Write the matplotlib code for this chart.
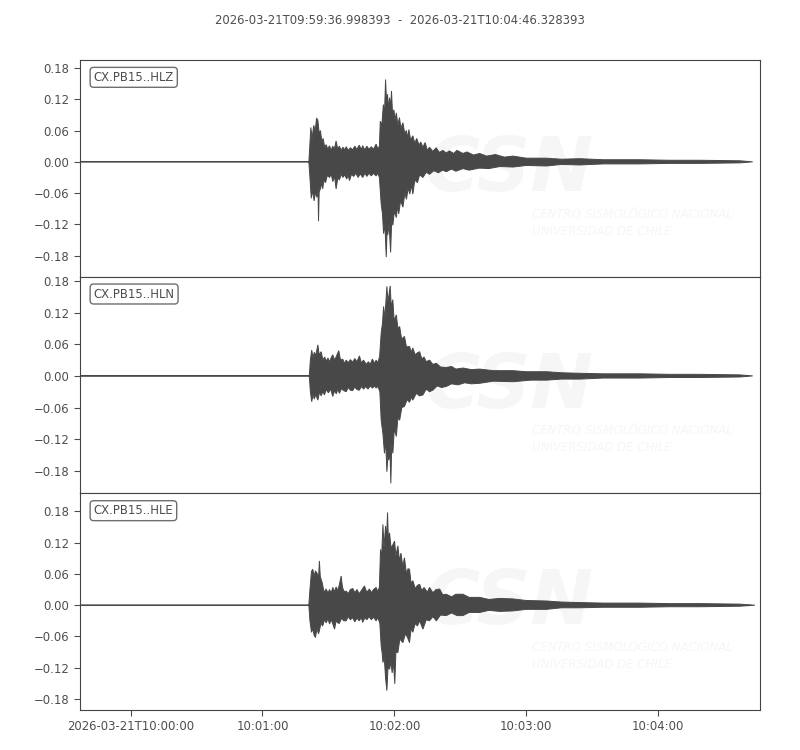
import numpy as np
import pandas as pd
import matplotlib.pyplot as plt
import matplotlib.dates as mdates
from matplotlib.ticker import FixedLocator, FuncFormatter

plt.switch_backend("Agg")

# Trace window and ids
start_time = "2026-03-21T09:59:36.998393"
end_time = "2026-03-21T10:04:46.328393"
ref_time = "2026-03-21T10:00:00"
trace_ids = ["CX.PB15..HLZ", "CX.PB15..HLN", "CX.PB15..HLE"]

# Envelopes: (seconds after 10:00:00, amplitude)
hlz_upper = [
    (-23.0, 0.0), (81.1, 0.0), (81.4, 0.020), (82.0, 0.066), (82.6, 0.045), (83.3, 0.070),
    (84.0, 0.060), (84.6, 0.084), (85.2, 0.080), (85.8, 0.055), (86.4, 0.060), (87.0, 0.038),
    (87.6, 0.045), (88.3, 0.028), (89.0, 0.033), (89.7, 0.024), (90.5, 0.031), (91.2, 0.022),
    (92.0, 0.030), (92.7, 0.024), (93.5, 0.040), (94.2, 0.025), (95.0, 0.030), (95.8, 0.022),
    (96.6, 0.028), (97.4, 0.023), (98.1, 0.029), (99.0, 0.022), (100.0, 0.027), (101.0, 0.023),
    (102.0, 0.030), (103.0, 0.024), (104.0, 0.032), (105.0, 0.024), (105.6, 0.031),
    (106.5, 0.023), (107.5, 0.030), (108.5, 0.024), (109.5, 0.029), (110.5, 0.024),
    (111.7, 0.034), (112.5, 0.025), (113.2, 0.030), (113.6, 0.078), (114.3, 0.070),
    (115.0, 0.110), (115.5, 0.090), (116.0, 0.158), (116.5, 0.110), (116.9, 0.130),
    (117.3, 0.100), (117.8, 0.123), (118.3, 0.105), (118.7, 0.136), (119.2, 0.090),
    (119.8, 0.100), (120.3, 0.080), (120.9, 0.094), (121.6, 0.070), (122.3, 0.085),
    (123.0, 0.065), (123.9, 0.075), (124.7, 0.055), (125.5, 0.060), (126.0, 0.045),
    (126.6, 0.062), (127.4, 0.042), (128.4, 0.050), (129.3, 0.036), (130.2, 0.045),
    (131.2, 0.032), (132.0, 0.038), (133.0, 0.028), (134.0, 0.037), (135.0, 0.022),
    (136.0, 0.028), (137.5, 0.020), (139.0, 0.027), (140.5, 0.018), (142.0, 0.022),
    (143.6, 0.017), (145.0, 0.021), (147.0, 0.016), (148.5, 0.022), (151.2, 0.016),
    (153.0, 0.019), (156.0, 0.013), (158.8, 0.016), (162.0, 0.011), (166.0, 0.014),
    (170.0, 0.009), (174.0, 0.011), (180.0, 0.007), (189.2, 0.007), (196.0, 0.005),
    (204.3, 0.006), (215.0, 0.004), (231.6, 0.004), (245.0, 0.003), (258.9, 0.003),
    (277.1, 0.002), (283.0, 0.0),
]
hlz_lower = [
    (-23.0, 0.0), (81.1, 0.0), (81.6, -0.030), (82.2, -0.070), (82.8, -0.055), (83.5, -0.075),
    (84.1, -0.058), (84.7, -0.068), (85.3, -0.060), (85.5, -0.114), (85.8, -0.058),
    (86.5, -0.050), (87.0, -0.040), (87.4, -0.052), (88.0, -0.035), (88.7, -0.040),
    (89.5, -0.026), (90.5, -0.030), (91.3, -0.024), (92.0, -0.038), (92.8, -0.028),
    (93.5, -0.052), (94.3, -0.030), (95.0, -0.035), (95.8, -0.024), (96.6, -0.030),
    (97.4, -0.025), (98.3, -0.033), (99.0, -0.026), (99.6, -0.036), (100.5, -0.024),
    (101.5, -0.028), (102.5, -0.022), (103.5, -0.030), (104.5, -0.023), (105.6, -0.030),
    (106.6, -0.022), (107.5, -0.028), (108.5, -0.022), (109.5, -0.027), (110.5, -0.022),
    (111.7, -0.027), (112.5, -0.022), (113.2, -0.030), (114.0, -0.081), (114.6, -0.100),
    (115.1, -0.138), (115.7, -0.120), (116.3, -0.183), (116.7, -0.130), (117.0, -0.140),
    (117.6, -0.120), (118.3, -0.174), (118.8, -0.110), (119.3, -0.122), (120.0, -0.095),
    (120.9, -0.107), (121.5, -0.085), (122.0, -0.100), (122.8, -0.075), (123.9, -0.087),
    (124.8, -0.060), (125.5, -0.072), (126.3, -0.050), (127.0, -0.062), (127.8, -0.045),
    (128.4, -0.062), (129.3, -0.035), (130.5, -0.040), (131.5, -0.025), (133.0, -0.030),
    (134.5, -0.020), (136.0, -0.024), (138.0, -0.017), (140.0, -0.021), (142.0, -0.016),
    (143.6, -0.019), (146.0, -0.014), (148.0, -0.018), (151.2, -0.013), (154.0, -0.016),
    (158.8, -0.012), (163.0, -0.013), (168.0, -0.009), (174.0, -0.010), (180.0, -0.007),
    (189.2, -0.008), (196.0, -0.005), (204.3, -0.006), (215.0, -0.004), (231.6, -0.004),
    (245.0, -0.003), (258.9, -0.003), (277.1, -0.002), (283.0, 0.0),
]

hln_upper = [
    (-23.0, 0.0), (81.3, 0.0), (81.8, 0.030), (82.4, 0.049), (83.0, 0.035), (83.6, 0.045),
    (84.2, 0.038), (85.2, 0.059), (85.8, 0.040), (86.7, 0.046), (87.5, 0.030), (88.3, 0.036),
    (89.0, 0.028), (89.8, 0.034), (90.5, 0.027), (91.3, 0.035), (92.0, 0.040), (92.8, 0.030),
    (93.5, 0.036), (94.7, 0.048), (95.5, 0.030), (96.5, 0.032), (97.3, 0.024), (98.1, 0.030),
    (99.0, 0.025), (100.0, 0.031), (101.0, 0.026), (102.0, 0.033), (103.0, 0.027),
    (104.1, 0.038), (105.0, 0.025), (106.0, 0.030), (107.2, 0.022), (108.2, 0.027),
    (109.0, 0.022), (110.0, 0.032), (111.0, 0.024), (111.7, 0.030), (112.5, 0.025),
    (113.3, 0.037), (114.0, 0.081), (114.6, 0.100), (115.1, 0.132), (115.7, 0.110),
    (116.6, 0.170), (117.1, 0.140), (117.6, 0.155), (118.1, 0.171), (118.6, 0.130),
    (119.3, 0.145), (119.9, 0.105), (120.9, 0.116), (121.6, 0.090), (122.4, 0.094),
    (123.3, 0.070), (124.6, 0.075), (125.5, 0.055), (126.9, 0.056), (127.7, 0.045),
    (128.4, 0.053), (129.5, 0.040), (130.5, 0.044), (131.5, 0.046), (132.5, 0.032),
    (133.5, 0.036), (134.5, 0.027), (136.0, 0.030), (137.5, 0.022), (139.1, 0.024),
    (141.0, 0.017), (143.6, 0.016), (146.0, 0.018), (148.0, 0.013), (151.2, 0.015),
    (155.0, 0.012), (158.8, 0.013), (165.0, 0.010), (174.0, 0.010), (180.0, 0.008),
    (189.2, 0.008), (196.0, 0.006), (204.3, 0.005), (215.0, 0.004), (231.6, 0.004),
    (245.0, 0.003), (258.9, 0.003), (277.1, 0.002), (283.0, 0.0),
]
hln_lower = [
    (-23.0, 0.0), (81.3, 0.0), (81.8, -0.030), (82.4, -0.049), (83.0, -0.036), (83.6, -0.044),
    (84.2, -0.035), (85.2, -0.046), (86.0, -0.030), (86.7, -0.038), (87.4, -0.030),
    (88.2, -0.036), (89.0, -0.026), (90.0, -0.032), (91.0, -0.025), (92.0, -0.039),
    (92.8, -0.028), (93.6, -0.034), (94.3, -0.025), (95.0, -0.033), (96.0, -0.024),
    (97.0, -0.028), (98.1, -0.030), (99.0, -0.022), (100.0, -0.027), (101.0, -0.028),
    (102.0, -0.021), (103.0, -0.026), (104.1, -0.027), (105.0, -0.020), (106.0, -0.025),
    (107.0, -0.020), (108.0, -0.025), (109.0, -0.019), (110.0, -0.023), (111.0, -0.019),
    (111.7, -0.023), (112.5, -0.020), (113.4, -0.030), (114.0, -0.084), (114.8, -0.110),
    (115.5, -0.147), (116.0, -0.120), (116.6, -0.182), (117.1, -0.150), (117.5, -0.160),
    (118.0, -0.140), (118.4, -0.204), (118.8, -0.130), (119.3, -0.147), (120.0, -0.100),
    (120.9, -0.115), (121.6, -0.080), (122.4, -0.084), (123.4, -0.060), (124.6, -0.058),
    (125.8, -0.045), (126.9, -0.050), (127.8, -0.040), (128.4, -0.046), (130.0, -0.033),
    (131.5, -0.038), (133.0, -0.036), (134.5, -0.025), (136.0, -0.030), (137.5, -0.027),
    (139.5, -0.019), (141.5, -0.022), (143.6, -0.020), (146.0, -0.015), (149.0, -0.017),
    (152.0, -0.013), (155.0, -0.015), (158.8, -0.014), (165.0, -0.010), (174.0, -0.011),
    (182.0, -0.008), (189.2, -0.008), (196.0, -0.006), (204.3, -0.006), (215.0, -0.004),
    (231.6, -0.004), (245.0, -0.003), (258.9, -0.003), (277.1, -0.002), (283.0, 0.0),
]

hle_upper = [
    (-23.0, 0.0), (81.1, 0.0), (81.6, 0.030), (82.3, 0.065), (82.9, 0.069), (83.5, 0.055),
    (84.1, 0.066), (85.0, 0.060), (85.5, 0.050), (85.9, 0.085), (86.3, 0.055), (86.8, 0.048),
    (87.2, 0.043), (88.0, 0.025), (89.0, 0.031), (89.8, 0.023), (90.5, 0.030), (91.3, 0.024),
    (92.0, 0.034), (92.8, 0.026), (93.5, 0.035), (94.3, 0.028), (95.0, 0.040), (95.8, 0.056),
    (96.4, 0.034), (97.2, 0.026), (98.1, 0.027), (99.0, 0.022), (100.0, 0.030),
    (101.1, 0.032), (102.0, 0.024), (103.0, 0.030), (104.0, 0.022), (105.0, 0.028),
    (106.4, 0.037), (107.4, 0.025), (108.7, 0.031), (109.6, 0.024), (110.5, 0.030),
    (111.7, 0.034), (112.5, 0.026), (113.2, 0.035), (113.7, 0.107), (114.2, 0.090),
    (114.8, 0.155), (115.3, 0.110), (116.0, 0.152), (116.4, 0.120), (116.9, 0.178),
    (117.3, 0.120), (117.8, 0.139), (118.5, 0.110), (119.2, 0.115), (120.1, 0.123),
    (120.7, 0.095), (121.6, 0.114), (122.3, 0.085), (123.0, 0.100), (123.8, 0.075),
    (124.6, 0.091), (125.5, 0.060), (126.2, 0.070), (126.9, 0.069), (127.6, 0.042),
    (128.4, 0.047), (129.5, 0.032), (130.5, 0.038), (131.5, 0.040), (132.5, 0.028),
    (133.5, 0.034), (135.0, 0.025), (136.0, 0.034), (137.5, 0.024), (139.0, 0.030),
    (140.6, 0.031), (142.0, 0.020), (143.6, 0.021), (146.0, 0.016), (148.0, 0.021),
    (151.2, 0.021), (154.0, 0.015), (158.8, 0.015), (163.0, 0.011), (168.0, 0.013),
    (174.0, 0.012), (180.0, 0.009), (189.2, 0.008), (196.0, 0.006), (204.3, 0.005),
    (215.0, 0.004), (231.6, 0.004), (245.0, 0.003), (258.9, 0.003), (277.1, 0.002),
    (284.0, 0.0),
]
hle_lower = [
    (-23.0, 0.0), (81.1, 0.0), (81.6, -0.030), (82.3, -0.052), (82.9, -0.045), (83.5, -0.058),
    (84.1, -0.062), (84.8, -0.045), (85.5, -0.055), (85.9, -0.049), (86.6, -0.035),
    (87.4, -0.040), (88.2, -0.028), (89.0, -0.034), (89.8, -0.026), (90.5, -0.036),
    (91.3, -0.028), (92.0, -0.036), (92.8, -0.046), (93.5, -0.030), (94.3, -0.034),
    (95.0, -0.035), (96.0, -0.025), (97.0, -0.030), (98.1, -0.030), (99.0, -0.022),
    (100.0, -0.028), (101.0, -0.024), (102.0, -0.032), (103.0, -0.025), (104.0, -0.030),
    (105.0, -0.024), (105.6, -0.033), (106.6, -0.024), (107.5, -0.028), (108.5, -0.022),
    (109.5, -0.028), (110.5, -0.023), (111.7, -0.030), (112.5, -0.024), (113.4, -0.035),
    (114.0, -0.078), (114.4, -0.090), (114.8, -0.110), (115.4, -0.100), (116.0, -0.140),
    (116.6, -0.164), (117.1, -0.120), (117.8, -0.123), (118.4, -0.110), (119.0, -0.130),
    (119.6, -0.110), (120.2, -0.151), (120.7, -0.090), (121.6, -0.091), (122.5, -0.065),
    (123.9, -0.072), (125.0, -0.055), (126.0, -0.062), (126.9, -0.072), (127.6, -0.045),
    (128.4, -0.052), (129.5, -0.035), (130.5, -0.040), (131.5, -0.030), (133.0, -0.046),
    (134.5, -0.028), (136.0, -0.030), (137.5, -0.022), (139.1, -0.030), (141.0, -0.019),
    (143.6, -0.020), (146.0, -0.015), (148.5, -0.020), (151.2, -0.020), (154.0, -0.014),
    (158.8, -0.014), (163.0, -0.010), (168.0, -0.012), (174.0, -0.011), (180.0, -0.008),
    (189.2, -0.008), (196.0, -0.005), (204.3, -0.005), (215.0, -0.004), (231.6, -0.004),
    (245.0, -0.003), (258.9, -0.003), (277.1, -0.002), (284.0, 0.0),
]

# y limits of each panel
y_limits = [(-0.2205, 0.1955), (-0.223, 0.1885), (-0.2013, 0.2147)]
y_ticks = [-0.18, -0.12, -0.06, 0.0, 0.06, 0.12, 0.18]
x_tick_labels = ["10:00:00", "10:01:00", "10:02:00", "10:03:00", "10:04:00"]

TEXT = "#4d4d4d"
WAVE = "#484848"

plt.rcParams["font.family"] = ["DejaVu Sans"]
plt.rcParams["text.color"] = TEXT
plt.rcParams["axes.edgecolor"] = "#444444"
plt.rcParams["xtick.color"] = TEXT
plt.rcParams["ytick.color"] = TEXT
plt.rcParams["xtick.labelsize"] = "small"
plt.rcParams["ytick.labelsize"] = "small"


def to_num(seconds):
    base = pd.Timestamp(ref_time)
    stamps = [base + pd.Timedelta(seconds=s) for s in seconds]
    return mdates.date2num(stamps)


def add_watermark(ax):
    # faint CSN logo behind the traces
    wm = "#f6f6f6"
    ax.text(0.63, 0.49, "CSN", transform=ax.transAxes, fontsize=54, fontweight="bold",
            style="italic", color=wm, ha="center", va="center", zorder=0)
    ax.text(0.665, 0.25, "CENTRO SISMOLÓGICO NACIONAL\nUNIVERSIDAD DE CHILE",
            transform=ax.transAxes, fontsize=8.5, style="italic", color=wm,
            ha="left", va="center", linespacing=1.4, zorder=0)


fig = plt.figure(figsize=(8, 7.5), dpi=100)
fig.subplots_adjust(left=0.1, right=0.95, top=0.92, bottom=0.0533, hspace=0)
axes = fig.subplots(3, 1, sharex=True)

traces = [(hlz_upper, hlz_lower), (hln_upper, hln_lower), (hle_upper, hle_lower)]

for ax, (upper, lower), tid, ylim in zip(axes, traces, trace_ids, y_limits):
    add_watermark(ax)
    ut, uv = zip(*upper)
    lt, lv = zip(*lower)
    xs = np.concatenate([to_num(ut), to_num(lt)[::-1]])
    ys = np.concatenate([uv, lv[::-1]])
    ax.fill(xs, ys, facecolor=WAVE, edgecolor=WAVE, linewidth=0.7, zorder=2)
    ax.set_ylim(*ylim)
    ax.yaxis.set_major_locator(FixedLocator(y_ticks))
    ax.text(0.02, 0.95, tid, transform=ax.transAxes, fontsize="small",
            ha="left", va="top", zorder=5,
            bbox=dict(boxstyle="round", fc="w", ec="#6e6e6e"))
    ax.tick_params(axis="both", length=4)

x_start = mdates.date2num(pd.Timestamp(start_time))
x_end = mdates.date2num(pd.Timestamp(end_time))
axes[-1].set_xlim(x_start, x_end)
tick_pos = mdates.date2num([pd.Timestamp("2026-03-21 " + s) for s in x_tick_labels])
axes[-1].xaxis.set_major_locator(FixedLocator(tick_pos))


def fmt_time(x, pos):
    d = mdates.num2date(x)
    if pos == 0:
        return d.strftime("%Y-%m-%dT%H:%M:%S")
    return d.strftime("%H:%M:%S")


axes[-1].xaxis.set_major_formatter(FuncFormatter(fmt_time))
for ax in axes[:-1]:
    ax.tick_params(axis="x", labelbottom=False, length=0)

fig.suptitle(f"{start_time}  -  {end_time}", y=0.973, va="center",
             fontsize="small", color=TEXT)

fig.savefig("out.png", dpi=100)
